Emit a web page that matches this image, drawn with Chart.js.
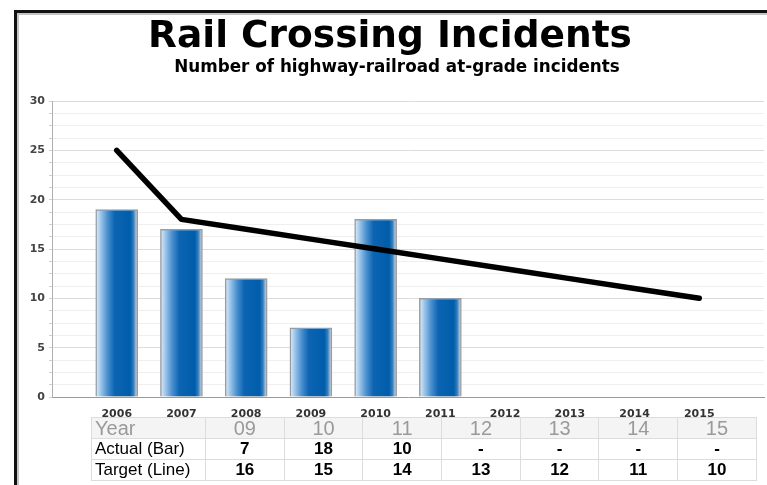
<!DOCTYPE html>
<html>
<head>
<meta charset="utf-8">
<title>Rail Crossing Incidents</title>
<script src="https://cdn.jsdelivr.net/npm/chart.js@4/dist/chart.umd.min.js"></script>
<style>
  html, body { margin: 0; padding: 0; background: #fff; overflow: hidden; }
  body { width: 767px; height: 485px; position: relative; }
  .frame { position: absolute; left: 14px; top: 10px; width: 800px; height: 520px;
           border-left: 3px solid #111; border-top: 3px solid #111; }
  .frame-inner { position: absolute; left: 0; top: 0; right: 0; bottom: 0;
           border-left: 2px solid #c4c4c4; border-top: 2px solid #c4c4c4; }
  #wrap { position: absolute; left: 0; top: 0; width: 767px; height: 421px; }
  .title { position: absolute; text-align: center; color: #000;
           font-family: "DejaVu Sans", sans-serif; font-weight: bold; white-space: nowrap; }
  #t1 { top: 11px; left: 0; width: 780px; font-size: 37.5px; line-height: 46px; }
  #t2 { top: 56px; left: 7px; width: 780px; font-size: 16.8px; line-height: 20px; }
  table { position: absolute; left: 91px; top: 417px; border-collapse: collapse;
          font-family: "Liberation Sans", Arial, sans-serif; table-layout: fixed; }
  td { border: 1px solid #dcdcdc; padding: 0; text-align: center; color: #000;
       font-weight: bold; font-size: 17px; height: 20px; line-height: 20px; width: 77.7px; }
  td.lab { text-align: left; font-weight: normal; padding-left: 3px; width: 110px; font-size: 17px; }
  tr.yr td { background: #f4f4f4; color: #9a9a9a; font-weight: normal; font-size: 20px; }
</style>
</head>
<body>
<div class="frame"><div class="frame-inner"></div></div>
<div id="wrap"><canvas id="c" width="767" height="421"></canvas></div>
<div class="title" id="t1">Rail Crossing Incidents</div>
<div class="title" id="t2">Number of highway-railroad at-grade incidents</div>
<table id="tbl"></table>
<script>
// Chart data
const years = [2006, 2007, 2008, 2009, 2010, 2011, 2012, 2013, 2014, 2015];
const actual = [19, 17, 12, 7, 18, 10];                  // incidents recorded (bars)
const target = [25, 18, 17, 16, 15, 14, 13, 12, 11, 10]; // target (line)
const tableYears = [2009, 2010, 2011, 2012, 2013, 2014, 2015];
const yTicks = { min: 0, max: 30, major: 5, minor: 1.25 };

const BAR_W = 42;

// Horizontal gradient across each bar, giving a cylinder-like shading
function barFill(ctx) {
  const chart = ctx.chart;
  const xs = chart.scales && chart.scales.x;
  if (!chart.chartArea || !xs || ctx.type !== 'data') return '#0060ae';
  const cx = xs.getPixelForValue(years[ctx.dataIndex]);
  const g = chart.ctx.createLinearGradient(cx - BAR_W / 2, 0, cx + BAR_W / 2, 0);
  g.addColorStop(0.00, '#e4eff9');
  g.addColorStop(0.10, '#a9cbea');
  g.addColorStop(0.28, '#4b8fcd');
  g.addColorStop(0.45, '#0c64b2');
  g.addColorStop(0.82, '#005dab');
  g.addColorStop(0.90, '#2f7fc3');
  g.addColorStop(0.95, '#8ab8e2');
  g.addColorStop(1.00, '#d9e8f5');
  return g;
}

const barData = actual.map((v, i) => ({ x: years[i], y: v }));
const lineData = target.map((v, i) => ({ x: years[i], y: v }));

new Chart(document.getElementById('c'), {
  type: 'bar',
  data: {
    datasets: [
      {
        type: 'line',
        label: 'Target',
        data: lineData,
        borderColor: '#000',
        borderWidth: 5.5,
        pointRadius: 0,
        tension: 0,
        borderCapStyle: 'round',
        borderJoinStyle: 'round',
        order: 0
      },
      {
        type: 'bar',
        label: 'Actual',
        data: barData,
        backgroundColor: barFill,
        borderColor: '#9c9c9c',
        borderWidth: 1.5,
        borderSkipped: 'bottom',
        barThickness: BAR_W,
        order: 1
      }
    ]
  },
  options: {
    responsive: false,
    animation: false,
    events: [],
    layout: { padding: { left: 14, right: 2, top: 101, bottom: 0 } },
    plugins: { legend: { display: false }, tooltip: { enabled: false }, title: { display: false } },
    scales: {
      x: {
        type: 'linear',
        offset: false,
        min: years[0] - 1,
        max: years[years.length - 1] + 1,
        afterFit: (s) => { s.height = 24; },
        grid: { display: false },
        border: { display: true, color: '#9a9a9a', width: 1 },
        ticks: {
          stepSize: 1,
          autoSkip: false,
          maxRotation: 0,
          padding: 3,
          color: '#333',
          font: { family: 'DejaVu Sans', weight: 'bold', size: 11 },
          callback: (v) => (years.includes(v) ? String(v) : '')
        }
      },
      y: {
        min: yTicks.min,
        max: yTicks.max,
        afterFit: (s) => { s.width = 38; },
        border: { display: true, color: '#b0b0b0', width: 1 },
        grid: {
          color: (c) => (c.tick && c.tick.value % yTicks.major === 0 ? '#dcdcdc' : '#efefef'),
          tickLength: 3,
          tickColor: '#d0d0d0'
        },
        ticks: {
          stepSize: yTicks.minor,
          autoSkip: false,
          padding: 4,
          color: '#444',
          font: { family: 'DejaVu Sans', weight: 'bold', size: 11 },
          callback: (v) => (v % yTicks.major === 0 ? String(v) : '')
        }
      }
    }
  }
});

// Summary table beneath the chart
(function buildTable() {
  const tbl = document.getElementById('tbl');
  const rows = [
    { cls: 'yr', label: 'Year', vals: tableYears.map((y) => String(y).slice(2)) },
    { cls: '', label: 'Actual (Bar)', vals: tableYears.map((y) => {
        const v = actual[years.indexOf(y)];
        return v === undefined ? '-' : String(v);
      }) },
    { cls: '', label: 'Target (Line)', vals: tableYears.map((y) => String(target[years.indexOf(y)])) }
  ];
  rows.forEach((r) => {
    const tr = document.createElement('tr');
    if (r.cls) tr.className = r.cls;
    const th = document.createElement('td');
    th.className = 'lab';
    th.textContent = r.label;
    tr.appendChild(th);
    r.vals.forEach((v) => {
      const td = document.createElement('td');
      td.textContent = v;
      tr.appendChild(td);
    });
    tbl.appendChild(tr);
  });
})();
</script>
</body>
</html>
